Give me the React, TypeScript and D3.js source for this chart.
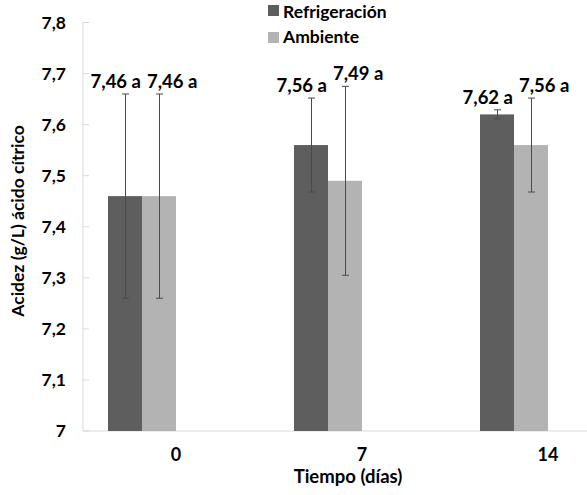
import { useEffect, useRef } from "react"
import * as d3 from "d3"

const days = ["0", "7", "14"]
const seriesNames = ["Refrigeración", "Ambiente"]
const refrigeracion = [7.46, 7.56, 7.62]
const ambiente = [7.46, 7.49, 7.56]
const refrigeracionErr = [0.2, 0.092, 0.009]
const ambienteErr = [0.2, 0.185, 0.092]
const significance = [["a", "a", "a"], ["a", "a", "a"]]
const yTicks = [7, 7.1, 7.2, 7.3, 7.4, 7.5, 7.6, 7.7, 7.8]

const colors = ["#5e5e5e", "#b3b3b3"]
const font = "Lato, 'Open Sans', sans-serif"

export default function App() {
  const ref = useRef<SVGSVGElement | null>(null)

  useEffect(() => {
    const svg = d3.select(ref.current)
    svg.selectAll("*").remove()

    const width = 587
    const height = 495
    const left = 83
    const top = 22.5
    const bottom = 431

    svg.attr("width", width).attr("height", height)

    const y = d3.scaleLinear().domain([7, 7.8]).range([bottom, top])
    // Excel cluster had 4 slots, only the first two carry data
    const x0 = d3.scaleBand<string>().domain(days).range([left, left + 186 * 3])
    const x1 = d3.scaleBand<string>()
      .domain([...seriesNames, "_a", "_b"])
      .range([0, x0.bandwidth()])
      .paddingOuter(0.735)

    const values = [refrigeracion, ambiente]
    const errs = [refrigeracionErr, ambienteErr]

    // axes
    svg.append("line")
      .attr("x1", left).attr("x2", width)
      .attr("y1", bottom).attr("y2", bottom)
      .attr("stroke", "#d9d9d9").attr("stroke-width", 1)
    svg.append("line")
      .attr("x1", left).attr("x2", left)
      .attr("y1", top).attr("y2", bottom)
      .attr("stroke", "#d9d9d9").attr("stroke-width", 1)

    svg.selectAll(".ytick")
      .data(yTicks)
      .enter()
      .append("line")
      .attr("x1", left).attr("x2", left + 6)
      .attr("y1", d => y(d)).attr("y2", d => y(d))
      .attr("stroke", "#d9d9d9")

    svg.selectAll(".ylab")
      .data(yTicks)
      .enter()
      .append("text")
      .attr("x", 66)
      .attr("y", d => y(d) + 6)
      .attr("text-anchor", "end")
      .attr("font-family", font)
      .attr("font-weight", "bold")
      .attr("font-size", "17.5px")
      .attr("fill", "#000")
      .text(d => d3.format(".1f")(d).replace(".", ",").replace(",0", ""))

    // bars
    seriesNames.forEach((name, s) => {
      const g = svg.append("g")
      days.forEach((day, i) => {
        const v = values[s][i]
        const e = errs[s][i]
        const bx = x0(day)! + x1(name)!
        const bw = x1.bandwidth()
        g.append("rect")
          .attr("x", bx).attr("width", bw)
          .attr("y", y(v)).attr("height", y(7) - y(v))
          .attr("fill", colors[s])

        const cx = Math.round(bx + bw / 2) + 0.5
        const hi = y(v + e)
        const lo = y(v - e)
        g.append("line").attr("x1", cx).attr("x2", cx).attr("y1", hi).attr("y2", lo)
          .attr("stroke", "#4a4a4a").attr("stroke-width", 1)
        ;[hi, lo].forEach(yy => {
          g.append("line").attr("x1", cx - 3.5).attr("x2", cx + 3.5).attr("y1", yy).attr("y2", yy)
            .attr("stroke", "#4a4a4a").attr("stroke-width", 1)
        })

        g.append("text")
          .attr("x", s === 0 ? bx + bw - 1 : bx + 5)
          .attr("y", hi - 6)
          .attr("text-anchor", s === 0 ? "end" : "start")
          .attr("font-family", font)
          .attr("font-weight", "bold")
          .attr("font-size", "18.5px")
          .attr("fill", "#000")
          .text(`${d3.format(".2f")(v).replace(".", ",")} ${significance[s][i]}`)
      })
    })

    // x labels
    svg.selectAll(".xlab")
      .data(days)
      .enter()
      .append("text")
      .attr("x", d => x0(d)! + x0.bandwidth() / 2)
      .attr("y", 461)
      .attr("text-anchor", "middle")
      .attr("font-family", font)
      .attr("font-weight", "bold")
      .attr("font-size", "18px")
      .attr("fill", "#000")
      .text(d => d)

    svg.append("text")
      .attr("x", 348).attr("y", 483)
      .attr("text-anchor", "middle")
      .attr("font-family", font)
      .attr("font-weight", "bold")
      .attr("font-size", "18.5px")
      .attr("fill", "#000")
      .text("Tiempo (días)")

    svg.append("text")
      .attr("transform", "translate(24,221) rotate(-90)")
      .attr("text-anchor", "middle")
      .attr("font-family", font)
      .attr("font-weight", "bold")
      .attr("font-size", "17.5px")
      .attr("fill", "#000")
      .text("Acidez (g/L) ácido cítrico")

    // legend
    const lg = svg.append("g")
    seriesNames.forEach((name, s) => {
      lg.append("rect")
        .attr("x", 268).attr("y", 5 + s * 27)
        .attr("width", 11).attr("height", 11)
        .attr("fill", colors[s])
      lg.append("text")
        .attr("x", 283).attr("y", 18 + s * 25)
        .attr("font-family", font)
        .attr("font-weight", "bold")
        .attr("font-size", "17.5px")
        .attr("fill", "#000")
        .text(name)
    })
  }, [])

  return <svg ref={ref} style={{ position: "absolute", left: 0, top: 0 }} />
}
